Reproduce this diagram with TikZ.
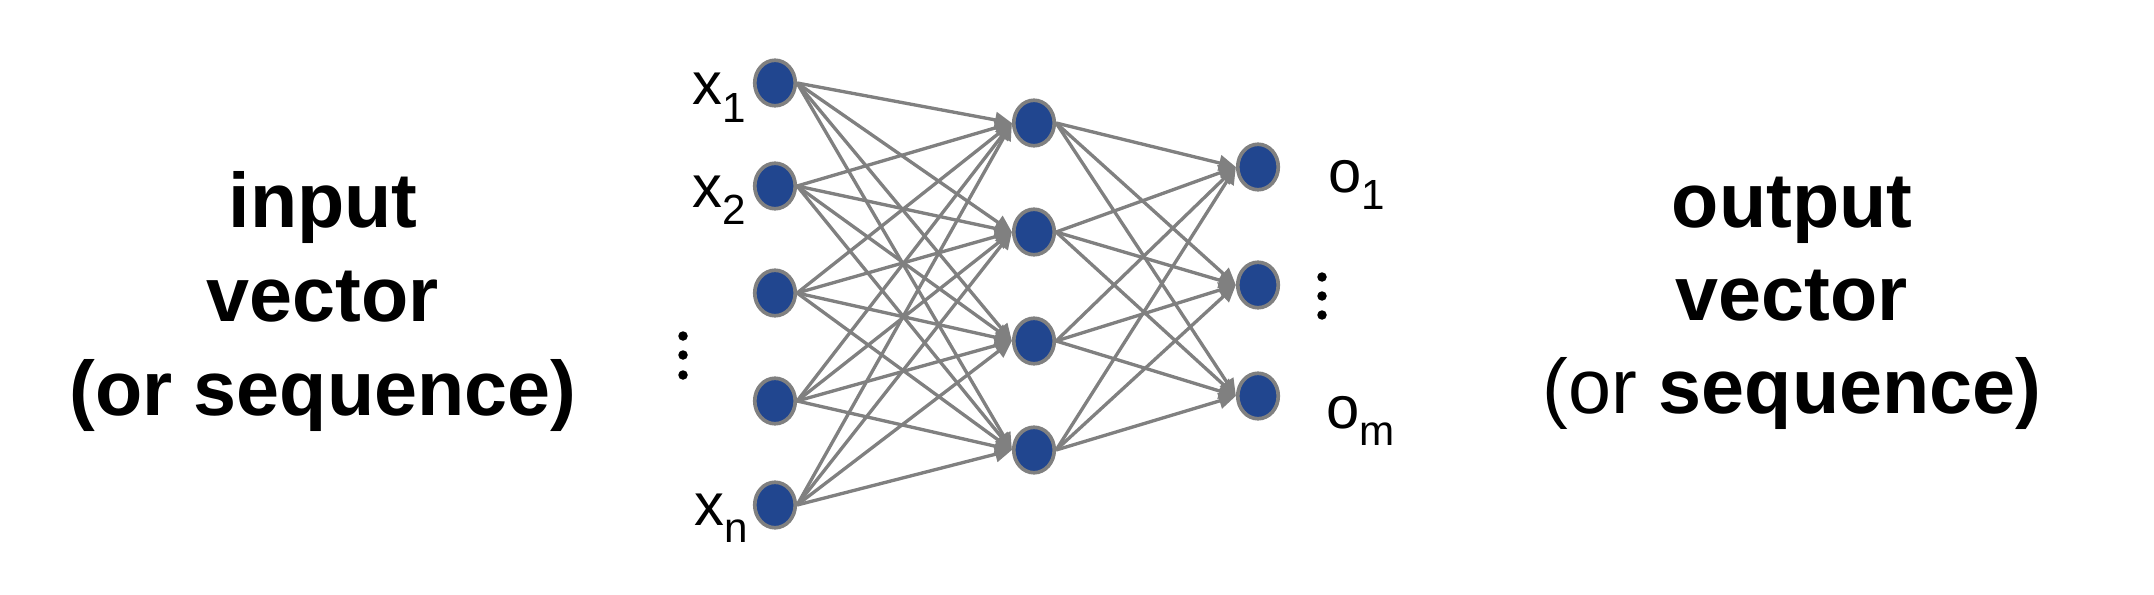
\documentclass[tikz,border=0pt]{standalone}
\usepackage{fontspec}
\setmainfont{Liberation Sans}
\usetikzlibrary{shapes.geometric,arrows.meta}
\definecolor{nodeblue}{RGB}{33,70,143}
\definecolor{edgegray}{RGB}{128,128,128}
\newcommand{\lab}[2]{#1\raisebox{-5pt}{\fontsize{12}{12}\selectfont #2}}
\tikzset{
  neuron/.style={ellipse, draw=edgegray, line width=1.05pt, fill=nodeblue,
    minimum width=4.05mm, minimum height=4.55mm, inner sep=0pt},
  conn/.style={draw=edgegray, line width=0.95pt,
    -{Triangle[length=1.7mm,width=1.55mm]}},
  bigtxt/.style={anchor=base, inner sep=0pt, font=\fontsize{22}{26}\selectfont\bfseries},
  smalllab/.style={anchor=base west, inner sep=0pt, font=\fontsize{17}{18}\selectfont},
  vdot/.style={circle, fill=black, inner sep=0pt, minimum size=0.95mm}
}
\begin{document}
\begin{tikzpicture}[x=0.1mm,y=-0.1mm]
\useasboundingbox (0,0) rectangle (2154,594);
% input layer
\node[neuron] (i1) at (775,83) {};
\node[neuron] (i2) at (775,186) {};
\node[neuron] (i3) at (775,293) {};
\node[neuron] (i4) at (775,401) {};
\node[neuron] (i5) at (775,505) {};
% hidden layer
\node[neuron] (h1) at (1034,123) {};
\node[neuron] (h2) at (1034,232) {};
\node[neuron] (h3) at (1034,341) {};
\node[neuron] (h4) at (1034,450) {};
% output layer
\node[neuron] (o1) at (1258,167) {};
\node[neuron] (o2) at (1258,285) {};
\node[neuron] (o3) at (1258,396) {};
% connections
\foreach \a in {1,...,5}{
  \foreach \b in {1,...,4}{
    \draw[conn] (i\a.east) -- (h\b.west);
  }
}
\foreach \a in {1,...,4}{
  \foreach \b in {1,...,3}{
    \draw[conn] (h\a.east) -- (o\b.west);
  }
}
% labels
\node[smalllab] (lx1) at (692,105) {\lab{x}{1}};
\node[smalllab] (lx2) at (692,207) {\lab{x}{2}};
\node[smalllab] (lxn) at (694,525) {\lab{x}{n}};
\node[smalllab] (lo1) at (1328,192) {\lab{o}{1}};
\node[smalllab] (lom) at (1326,428) {\lab{o}{m}};
% vertical dots
\node[vdot] (dl1) at (683,336) {};
\node[vdot] (dl2) at (683,355) {};
\node[vdot] (dl3) at (683,375) {};
\node[vdot] (dr1) at (1322,277) {};
\node[vdot] (dr2) at (1322,296) {};
\node[vdot] (dr3) at (1322,315) {};
% side texts
\node[bigtxt] (in1) at (323,227) {input};
\node[bigtxt] (in2) at (323,321) {vector};
\node[bigtxt] (in3) at (323,415) {(or sequence)};
\node[bigtxt] (out1) at (1792,227) {output};
\node[bigtxt] (out2) at (1792,320) {vector};
\node[bigtxt] (out3) at (1792,413) {{\mdseries (or} sequence)};
\end{tikzpicture}
\end{document}
